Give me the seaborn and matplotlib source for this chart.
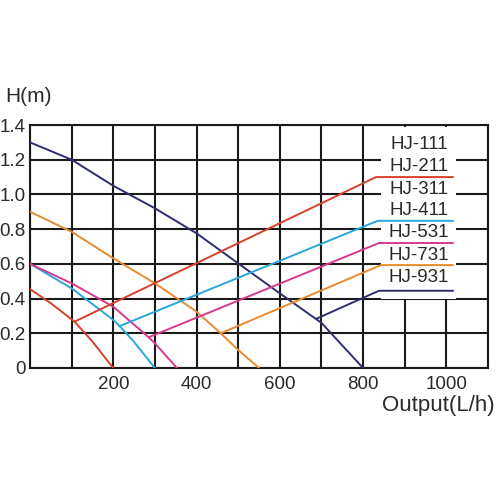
import matplotlib
matplotlib.use("Agg")
import matplotlib.pyplot as plt
import matplotlib.patches as patches
import numpy as np
import pandas as pd
import seaborn as sns

# pump curves (flow L/h, head m)
red_q = [0, 50, 107, 150, 200]
red_h = [0.455, 0.373, 0.267, 0.152, 0.0]
cyan_q = [0, 100, 200, 214, 250, 300]
cyan_h = [0.60, 0.459, 0.277, 0.245, 0.15, 0.0]
mag_q = [0, 100, 200, 285, 300, 353]
mag_h = [0.60, 0.488, 0.353, 0.177, 0.142, 0.0]
orange_q = [0, 100, 200, 300, 400, 458, 500, 550]
orange_h = [0.90, 0.785, 0.632, 0.488, 0.325, 0.20, 0.104, 0.0]
navy_q = [0, 100, 200, 300, 400, 500, 600, 700, 800]
navy_h = [1.30, 1.20, 1.05, 0.92, 0.776, 0.603, 0.43, 0.26, 0.0]

# leader lines from curve to label: start, bend, end
red_lead_q = [107, 831, 1016]
red_lead_h = [0.267, 1.10, 1.10]
cyan_lead_q = [214, 835, 1016]
cyan_lead_h = [0.240, 0.848, 0.848]
mag_lead_q = [285, 838, 1016]
mag_lead_h = [0.177, 0.72, 0.72]
orange_lead_q = [458, 843, 1016]
orange_lead_h = [0.20, 0.593, 0.593]
navy_lead_q = [688, 838, 1016]
navy_lead_h = [0.284, 0.445, 0.445]

labels = ["HJ-111", "HJ-211", "HJ-311", "HJ-411", "HJ-531", "HJ-731", "HJ-931"]
label_y = [1.29, 1.16, 1.03, 0.905, 0.78, 0.648, 0.52]

colors = {"red": "#d8402c", "cyan": "#2aa6dc", "mag": "#d63a8c",
          "orange": "#e88b2e", "navy": "#2d2e70"}

series = {
    "red": (red_q, red_h), "cyan": (cyan_q, cyan_h), "mag": (mag_q, mag_h),
    "orange": (orange_q, orange_h), "navy": (navy_q, navy_h),
}
leads = {
    "red": (red_lead_q, red_lead_h), "cyan": (cyan_lead_q, cyan_lead_h),
    "mag": (mag_lead_q, mag_lead_h), "orange": (orange_lead_q, orange_lead_h),
    "navy": (navy_lead_q, navy_lead_h),
}

sns.set_style("white")
plt.rcParams['font.family'] = ['Liberation Sans Narrow', 'Liberation Sans', 'DejaVu Sans']
txt_color = "#2a2a2a"

fig, ax = plt.subplots(figsize=(5, 5), dpi=100)
fig.subplots_adjust(left=0.06, right=0.976, top=0.75, bottom=0.264)

for name, (q, h) in series.items():
    df = pd.DataFrame({"q": q, "h": h})
    sns.lineplot(data=df, x="q", y="h", ax=ax, color=colors[name], lw=1.4,
                 estimator=None, sort=False, zorder=3)
for name, (q, h) in leads.items():
    df = pd.DataFrame({"q": q, "h": h})
    sns.lineplot(data=df, x="q", y="h", ax=ax, color=colors[name], lw=1.4,
                 estimator=None, sort=False, zorder=3)

# white panel behind the model names
ax.add_patch(patches.Rectangle((843, 0.40), 179, 0.99, facecolor="white",
                               edgecolor="none", zorder=1))
for lab, y in zip(labels, label_y):
    ax.text(934, y, lab, ha="center", va="center", fontsize=13.5, color=txt_color, zorder=4)

ax.set_xlim(0, 1100)
ax.set_ylim(0, 1.4)
ax.set_xticks(range(0, 1101, 100))
ax.set_xticklabels(["" if v % 200 or v == 0 or v > 1000 else str(v)
                    for v in range(0, 1101, 100)])
yt = np.round(np.arange(0, 1.41, 0.2), 1)
ax.set_yticks(yt)
ax.set_yticklabels(["0" if v == 0 else f"{v:.1f}" for v in yt])
ax.tick_params(length=0, labelsize=13.5, colors=txt_color)
ax.tick_params(axis="x", pad=6)
ax.tick_params(axis="y", pad=3)
ax.set_axisbelow(True)
ax.grid(True, color="#1a1a1a", lw=1.5)
for s in ax.spines.values():
    s.set_color("#1a1a1a")
    s.set_linewidth(1.5)
ax.set_xlabel("")
ax.set_ylabel("")

fig.text(0.01, 1 - 97 / 500, "H(m)", ha="left", va="center", fontsize=15, color=txt_color)
fig.text(0.99, 1 - 405 / 500, "Output(L/h)", ha="right", va="center", fontsize=16,
         color=txt_color)

fig.savefig("out.png", dpi=100, facecolor="white")
